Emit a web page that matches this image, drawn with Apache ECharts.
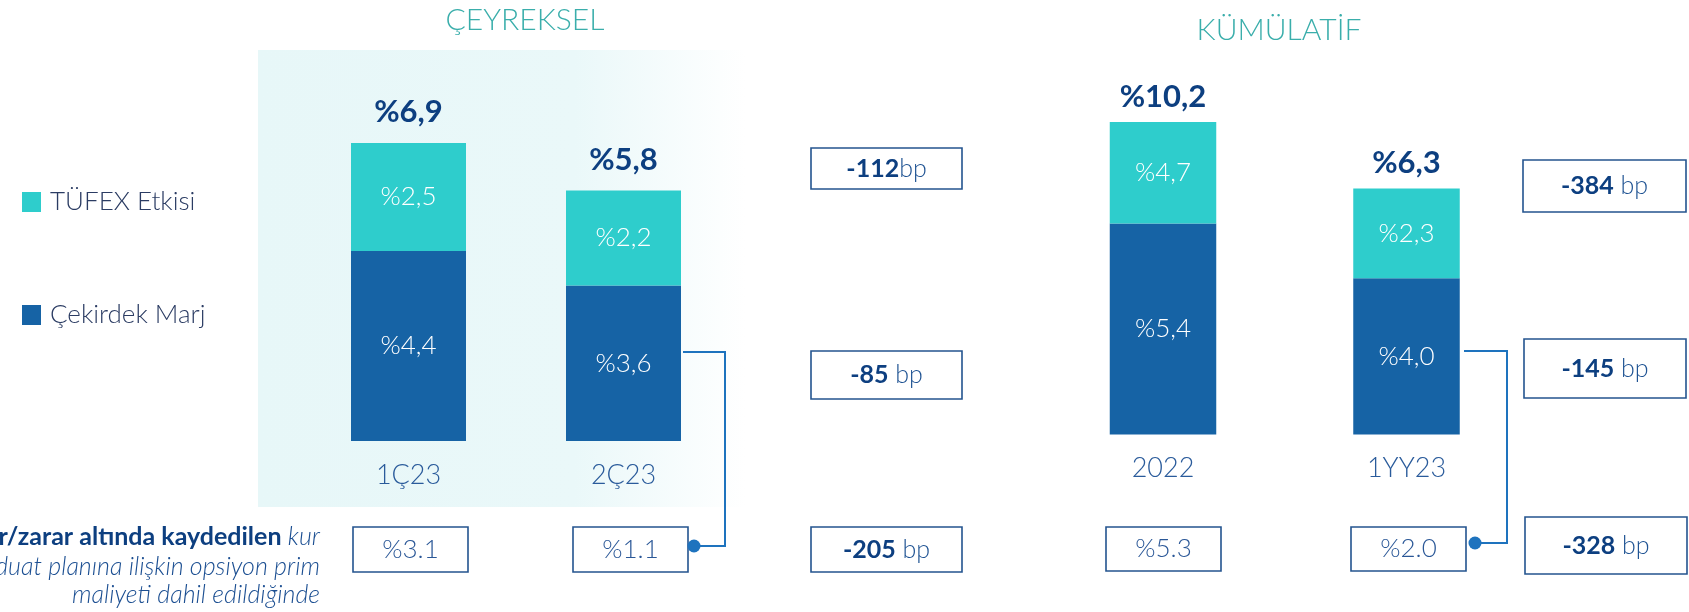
<!DOCTYPE html>
<html><head><meta charset="utf-8">
<script src="https://cdn.jsdelivr.net/npm/echarts@6/dist/echarts.min.js"></script>
<style>html,body{margin:0;padding:0;background:#fff}#c{width:1689px;height:612px}</style>
</head><body><div id="c"></div>
<script>
// ---------- DATA ----------
const seriesNames = ['TÜFEX Etkisi', 'Çekirdek Marj'];
const panelTitles = ['ÇEYREKSEL', 'KÜMÜLATİF'];
const quarterCats = ['1Ç23', '2Ç23'];
const quarterCore = [4.4, 3.6];
const quarterTufex = [2.5, 2.2];
const quarterTotal = [6.9, 5.8];
const quarterAdjusted = ['%3.1', '%1.1'];
const cumCats = ['2022', '1YY23'];
const cumCore = [5.4, 4.0];
const cumTufex = [4.7, 2.3];
const cumTotal = [10.2, 6.3];
const cumAdjusted = ['%5.3', '%2.0'];
const quarterChange = ['-112bp', '-85 bp', '-205 bp'];
const cumChange = ['-384 bp', '-145 bp', '-328 bp'];
const footnoteBold = 'Kâr/zarar altında kaydedilen';
const footnoteLines = ['kur', 'korumalı mevduat planına ilişkin opsiyon prim', 'maliyeti dahil edildiğinde'];

// ---------- STYLE ----------
const FONT = 'Lato, "Open Sans", sans-serif';
const TEAL = '#2ECDCC';
const BLUE = '#1663A5';
const NAVY = '#0D3F80';
const BOXC = '#24548F';
const LINEC = '#1E73BE';
const pct = v => '%' + v.toFixed(1).replace('.', ',');

const chart = echarts.init(document.getElementById('c'), null, {renderer: 'canvas'});

const labelStyle = {show: true, position: 'inside', color: '#fff', fontSize: 26, fontWeight: 300,
  fontFamily: FONT, formatter: p => pct(p.value)};
const axisLbl = {fontSize: 27, color: '#2A5B9B', fontWeight: 300, fontFamily: FONT, margin: 20, lineHeight: 28};

chart.setOption({
  animation: false,
  backgroundColor: '#fff',
  legend: {
    data: seriesNames, orient: 'vertical', left: 17, top: 184, itemWidth: 19, itemHeight: 20,
    itemGap: 87, icon: 'rect', selectedMode: false,
    textStyle: {fontSize: 26, lineHeight: 26, color: '#2B3C63', fontWeight: 300, fontFamily: FONT, padding: [0, 0, 0, 4]}
  },
  grid: [
    {left: 301, width: 430, top: 138.7, height: 302.3},
    {left: 1041.25, width: 487, top: 122, height: 312.5}
  ],
  xAxis: [
    {type: 'category', gridIndex: 0, data: quarterCats, axisLine: {show: false}, axisTick: {show: false}, axisLabel: axisLbl},
    {type: 'category', gridIndex: 1, data: cumCats, axisLine: {show: false}, axisTick: {show: false}, axisLabel: axisLbl}
  ],
  yAxis: [
    {type: 'value', gridIndex: 0, min: 0, max: 7, show: false, splitLine: {show: false}},
    {type: 'value', gridIndex: 1, min: 0, max: 8, show: false, splitLine: {show: false}}
  ],
  series: [
    {name: seriesNames[1], type: 'bar', stack: 'q', xAxisIndex: 0, yAxisIndex: 0, data: quarterCore,
      barWidth: 115, itemStyle: {color: BLUE}, label: labelStyle, clip: true},
    {name: seriesNames[0], type: 'bar', stack: 'q', xAxisIndex: 0, yAxisIndex: 0, data: quarterTufex,
      barWidth: 115, itemStyle: {color: TEAL}, label: labelStyle, clip: true},
    {name: seriesNames[1], type: 'bar', stack: 'c', xAxisIndex: 1, yAxisIndex: 1, data: cumCore,
      barWidth: 106.5, itemStyle: {color: BLUE}, label: labelStyle, clip: true},
    {name: seriesNames[0], type: 'bar', stack: 'c', xAxisIndex: 1, yAxisIndex: 1, data: cumTufex,
      barWidth: 106.5, itemStyle: {color: TEAL}, label: labelStyle, clip: true}
  ]
});

// ---------- ANNOTATIONS ----------
const g = [];
g.push({type: 'rect', silent: true, z: -10, shape: {x: 258, y: 50, width: 487, height: 457},
  style: {fill: new echarts.graphic.LinearGradient(0, 0, 1, 0, [
    {offset: 0, color: '#E7F7F8'}, {offset: 0.65, color: '#EAF8F9'}, {offset: 1, color: '#FFFFFF'}])}});

function txt(x, y, text, opt) {
  return Object.assign({type: 'text', x: x, y: y, z: 20, silent: true,
    style: Object.assign({text: text, align: 'center', verticalAlign: 'middle', fontFamily: FONT}, opt)});
}
g.push(txt(525, 20, panelTitles[0], {fontSize: 30, fontWeight: 300, fill: '#3AAEAB'}));
g.push(txt(1279, 30, panelTitles[1], {fontSize: 30, fontWeight: 300, fill: '#3AAEAB'}));

// totals above stacks
const totOff = [31, 25];
quarterTotal.forEach((t, i) => {
  const p = chart.convertToPixel({xAxisIndex: 0, yAxisIndex: 0}, [i, Math.min(t, 7)]);
  g.push(txt(p[0], p[1] - totOff[0], pct(t), {fontSize: 31, fontWeight: 'bold', fill: NAVY}));
});
cumTotal.forEach((t, i) => {
  const p = chart.convertToPixel({xAxisIndex: 1, yAxisIndex: 1}, [i, Math.min(t, 8)]);
  g.push(txt(p[0], p[1] - totOff[1], pct(t), {fontSize: 31, fontWeight: 'bold', fill: NAVY}));
});

function box(x, y, w, h, text, rich) {
  g.push({type: 'rect', z: 15, silent: true, shape: {x: x, y: y, width: w, height: h},
    style: {fill: '#fff', stroke: BOXC, lineWidth: 1.6}});
  if (rich) {
    const m = text.match(/^(-?\d+)(.*)$/);
    g.push(txt(x + w / 2, y + h / 2, '{b|' + m[1] + '}{l|' + m[2] + '}', {
      rich: {b: {fontSize: 25, fontWeight: 'bold', fill: NAVY, fontFamily: FONT},
             l: {fontSize: 25, fontWeight: 300, fill: '#1F5393', fontFamily: FONT}}}));
  } else {
    g.push(txt(x + w / 2, y + h / 2, text, {fontSize: 26, fontWeight: 300, fill: '#2A5797'}));
  }
}
// adjusted margin boxes (bottom row)
box(353, 527, 115, 45, quarterAdjusted[0]);
box(573, 527, 115, 45, quarterAdjusted[1]);
box(1106, 527, 115, 44, cumAdjusted[0]);
box(1351, 527, 115, 44, cumAdjusted[1]);
// bp change boxes
box(811, 148, 151, 41, quarterChange[0], true);
box(811, 351, 151, 48, quarterChange[1], true);
box(811, 527, 151, 45, quarterChange[2], true);
box(1523, 160, 163, 52, cumChange[0], true);
box(1524, 339, 162, 59, cumChange[1], true);
box(1525, 517, 162, 57, cumChange[2], true);

// connectors
function conn(pts, dot) {
  g.push({type: 'polyline', z: 12, silent: true, shape: {points: pts}, style: {stroke: LINEC, lineWidth: 2, fill: null}});
  g.push({type: 'circle', z: 16, silent: true, shape: {cx: dot[0], cy: dot[1], r: 6.5}, style: {fill: LINEC}});
}
conn([[683, 352], [725, 352], [725, 546], [694, 546]], [694, 546]);
conn([[1464, 351], [1507, 351], [1507, 543], [1475, 543]], [1475, 543]);

// footnote
g.push(txt(320, 537, '{b|' + footnoteBold + '}{i|\u00A0' + footnoteLines[0] + '}', {align: 'right',
  rich: {b: {fontSize: 25, fontWeight: 'bold', fill: NAVY, fontFamily: FONT},
         i: {fontSize: 25, fontStyle: 'italic', fontWeight: 300, fill: '#1C4F92', fontFamily: FONT}}}));
g.push(txt(320, 567, footnoteLines[1], {align: 'right', fontSize: 25, fontStyle: 'italic', fontWeight: 300, fill: '#1C4F92'}));
g.push(txt(320, 595, footnoteLines[2], {align: 'right', fontSize: 25, fontStyle: 'italic', fontWeight: 300, fill: '#1C4F92'}));

chart.setOption({graphic: g});
</script></body></html>
